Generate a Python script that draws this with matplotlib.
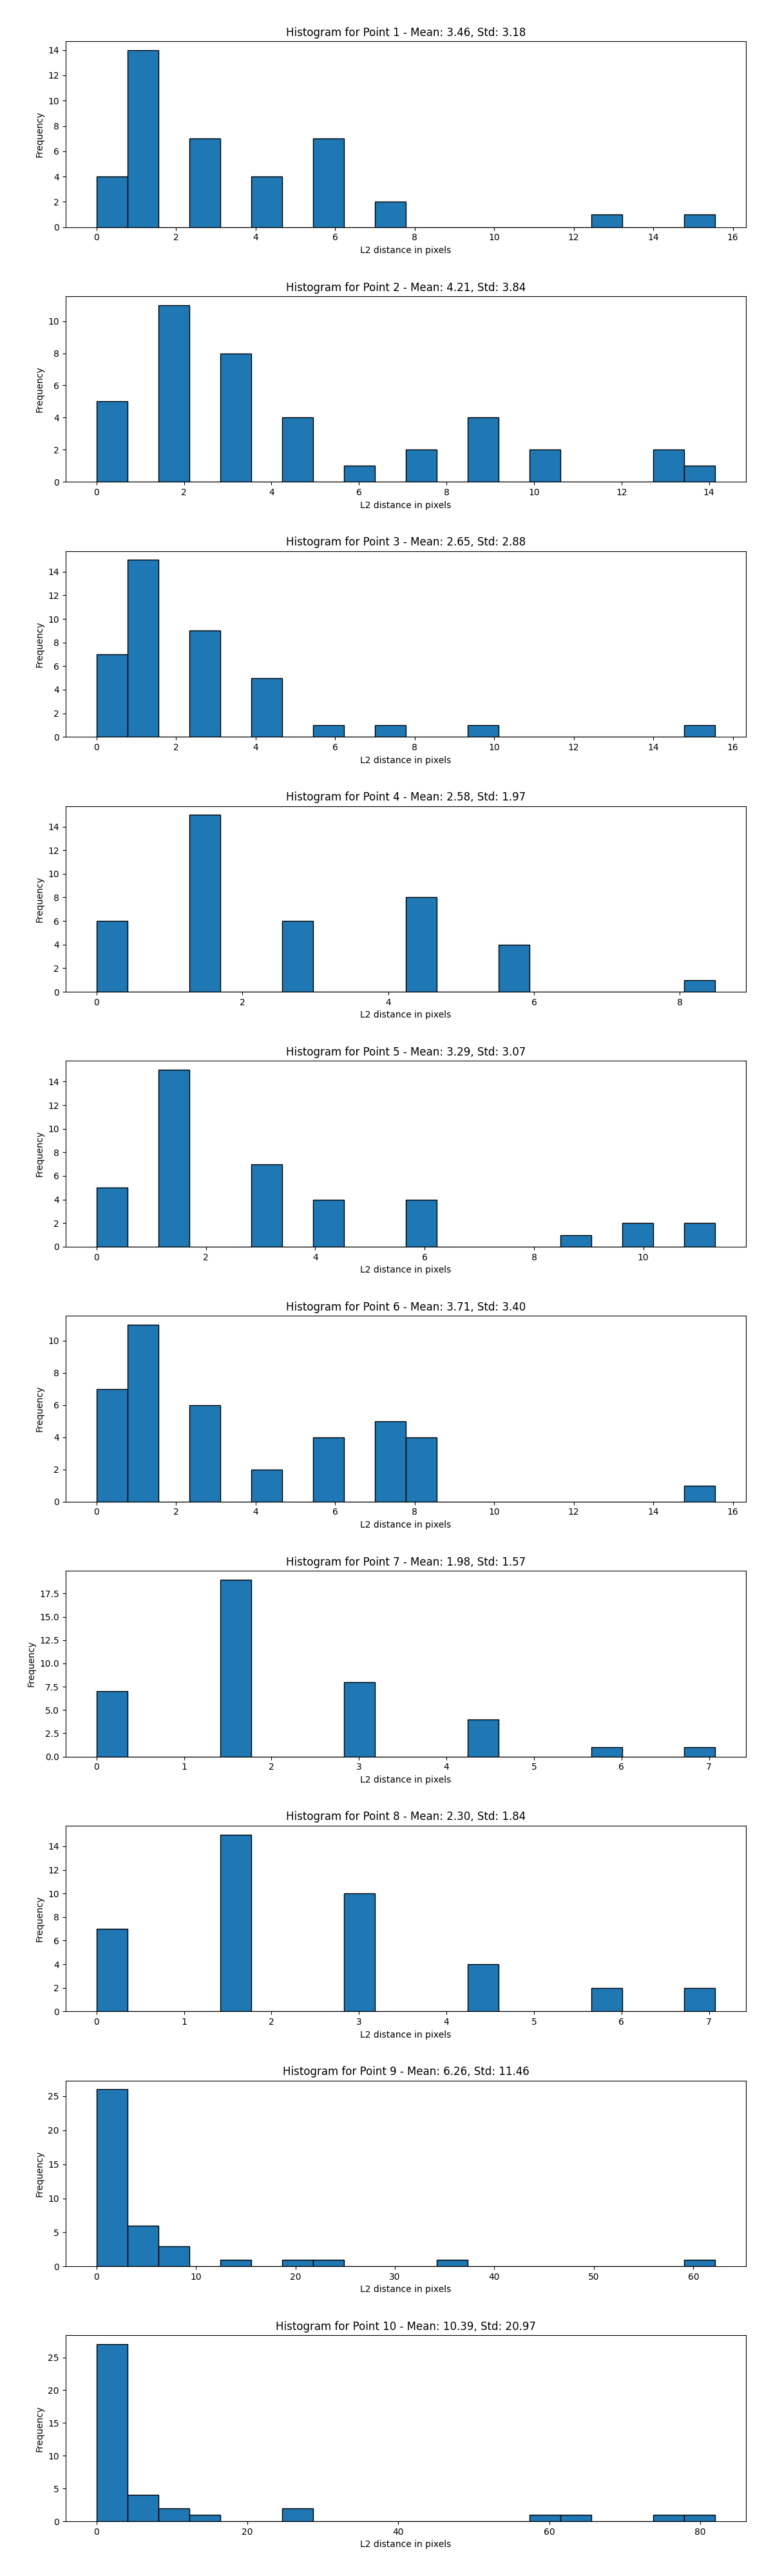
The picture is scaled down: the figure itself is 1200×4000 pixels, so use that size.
import numpy as np
import matplotlib
matplotlib.use("Agg")
import matplotlib.pyplot as plt

# Titles (mean/std per point)
point_names = ["Point 1", "Point 2", "Point 3", "Point 4", "Point 5",
               "Point 6", "Point 7", "Point 8", "Point 9", "Point 10"]
means = ["3.46", "4.21", "2.65", "2.58", "3.29", "3.71", "1.98", "2.30", "6.26", "10.39"]
stds = ["3.18", "3.84", "2.88", "1.97", "3.07", "3.40", "1.57", "1.84", "11.46", "20.97"]

# Data range (min, max) of each histogram
range_min = [0, 0, 0, 0, 0, 0, 0, 0, 0, 0]
range_max = [15.556, 14.142, 15.556, 8.485, 11.314, 15.556, 7.071, 7.071, 62.2, 82.0]

# Counts in each of the 20 bins
counts_p1 = [4, 14, 0, 7, 0, 4, 0, 7, 0, 2, 0, 0, 0, 0, 0, 0, 1, 0, 0, 1]
counts_p2 = [5, 0, 11, 0, 8, 0, 4, 0, 1, 0, 2, 0, 4, 0, 2, 0, 0, 0, 2, 1]
counts_p3 = [7, 15, 0, 9, 0, 5, 0, 1, 0, 1, 0, 0, 1, 0, 0, 0, 0, 0, 0, 1]
counts_p4 = [6, 0, 0, 15, 0, 0, 6, 0, 0, 0, 8, 0, 0, 4, 0, 0, 0, 0, 0, 1]
counts_p5 = [5, 0, 15, 0, 0, 7, 0, 4, 0, 0, 4, 0, 0, 0, 0, 1, 0, 2, 0, 2]
counts_p6 = [7, 11, 0, 6, 0, 2, 0, 4, 0, 5, 4, 0, 0, 0, 0, 0, 0, 0, 0, 1]
counts_p7 = [7, 0, 0, 0, 19, 0, 0, 0, 8, 0, 0, 0, 4, 0, 0, 0, 1, 0, 0, 1]
counts_p8 = [7, 0, 0, 0, 15, 0, 0, 0, 10, 0, 0, 0, 4, 0, 0, 0, 2, 0, 0, 2]
counts_p9 = [26, 6, 3, 0, 1, 0, 1, 1, 0, 0, 0, 1, 0, 0, 0, 0, 0, 0, 0, 1]
counts_p10 = [27, 4, 2, 1, 0, 0, 2, 0, 0, 0, 0, 0, 0, 0, 1, 1, 0, 0, 1, 1]

all_counts = [counts_p1, counts_p2, counts_p3, counts_p4, counts_p5,
              counts_p6, counts_p7, counts_p8, counts_p9, counts_p10]

fig, axes = plt.subplots(10, 1, figsize=(12, 40), dpi=100)
for i, ax in enumerate(axes):
    counts = np.array(all_counts[i], dtype=float)
    edges = np.linspace(range_min[i], range_max[i], len(counts) + 1)
    centers = (edges[:-1] + edges[1:]) / 2
    ax.hist(centers, bins=edges, weights=counts, edgecolor="black")
    ax.set_title(f"Histogram for {point_names[i]} - Mean: {means[i]}, Std: {stds[i]}")
    ax.set_xlabel("L2 distance in pixels")
    ax.set_ylabel("Frequency")

plt.tight_layout(pad=3.0)
fig.savefig("out.png")
